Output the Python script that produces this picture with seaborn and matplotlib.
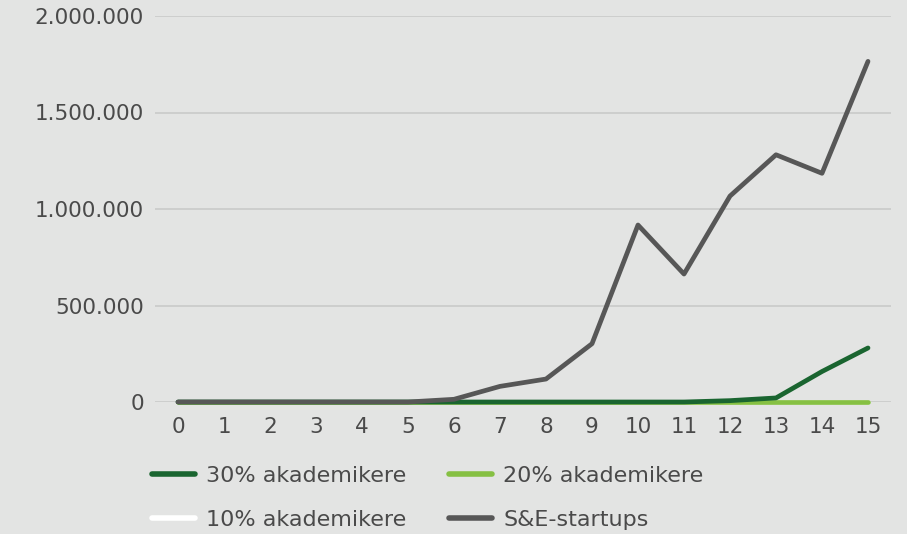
import matplotlib
matplotlib.use("Agg")
import matplotlib.pyplot as plt
import seaborn as sns
import pandas as pd
from matplotlib.ticker import FuncFormatter
from matplotlib.lines import Line2D

years = list(range(16))
series_names = ["30% akademikere", "20% akademikere", "10% akademikere", "S&E-startups"]
akad30 = [0, 0, 0, 0, 0, 0, 0, 0, 0, 0, 0, 0, 7000, 21000, 158000, 280000]
akad20 = [0] * 16
akad10 = [0] * 16
se_startups = [0, 0, 0, 0, 0, 0, 14000, 81000, 119000, 302000, 917000, 663000, 1067000, 1281000, 1185000, 1765000]
y_ticks = [0, 500000, 1000000, 1500000, 2000000]

colors = {"30% akademikere": "#1a6530", "20% akademikere": "#86c043",
          "10% akademikere": "#ffffff", "S&E-startups": "#575757"}

df = pd.DataFrame({
    "x": years * 4,
    "value": akad30 + akad20 + akad10 + se_startups,
    "series": sum([[n] * 16 for n in series_names], []),
})

sns.set_theme(style="white")
plt.rcParams["font.family"] = ["DejaVu Sans"]
bg = "#e3e4e3"
fig = plt.figure(figsize=(9.07, 5.34), dpi=100, facecolor=bg)
ax = fig.add_axes([155/907, 1-402/534, (891-155)/907, (402-16)/534])
ax.set_facecolor("none")

draw_order = ["10% akademikere", "20% akademikere", "30% akademikere", "S&E-startups"]
for z, name in enumerate(draw_order):
    sns.lineplot(data=df[df.series == name], x="x", y="value", color=colors[name],
                 linewidth=3.4, ax=ax, legend=False, solid_capstyle="round",
                 zorder=3 + z, clip_on=False)

ax.set_xlim(-0.5, 15.5)
ax.set_ylim(0, 2000000)
ax.set_yticks(y_ticks)
ax.set_xticks(years)
ax.yaxis.set_major_formatter(FuncFormatter(lambda v, p: f"{int(v):,}".replace(",", ".")))
ax.grid(axis="y", color="#c9cac9", linewidth=1.2, zorder=0)
ax.grid(axis="x", visible=False)
for s in ax.spines.values():
    s.set_visible(False)
ax.set_xlabel("")
ax.set_ylabel("")
ax.tick_params(axis="both", length=0, labelsize=15.5, labelcolor="#4a4a4a")
ax.tick_params(axis="y", pad=8)
ax.tick_params(axis="x", pad=11)

# row-major order like the reference: (30%, 20%) / (10%, S&E)
leg_order = ["30% akademikere", "10% akademikere", "20% akademikere", "S&E-startups"]
handles = [Line2D([0], [0], color=colors[n], linewidth=4, solid_capstyle="round") for n in leg_order]
leg = fig.legend(handles, leg_order, ncol=2, loc="center left",
                 bbox_to_anchor=(132/907, 1-498/534), frameon=False,
                 fontsize=16, handlelength=1.95, handletextpad=0.5,
                 columnspacing=1.9, labelspacing=1.1)
for t in leg.get_texts():
    t.set_color("#4a4a4a")

fig.savefig("out.png", dpi=100, facecolor=bg)
